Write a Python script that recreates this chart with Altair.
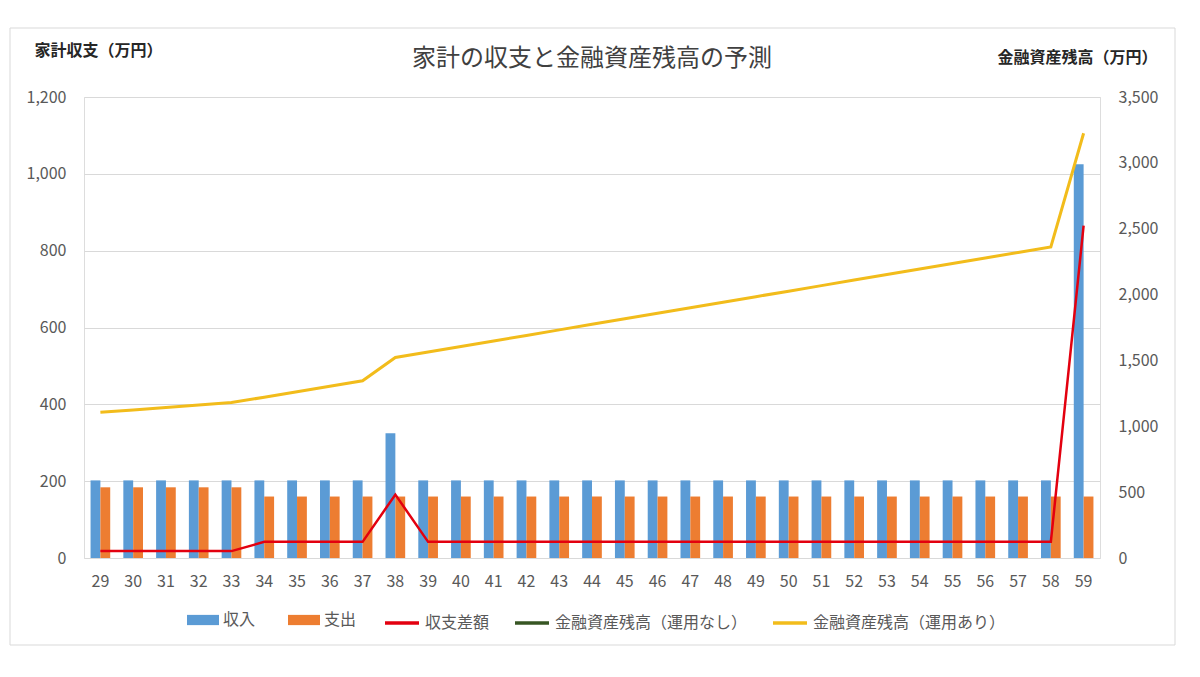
import altair as alt
import pandas as pd

# ---- data ----
ages = ["29", "30", "31", "32", "33", "34", "35", "36", "37", "38",
        "39", "40", "41", "42", "43", "44", "45", "46", "47", "48",
        "49", "50", "51", "52", "53", "54", "55", "56", "57", "58", "59"]

income = [202, 202, 202, 202, 202, 202, 202, 202, 202, 325,
          202, 202, 202, 202, 202, 202, 202, 202, 202, 202,
          202, 202, 202, 202, 202, 202, 202, 202, 202, 202, 1025]

expense = [184, 184, 184, 184, 184, 160, 160, 160, 160, 160,
           160, 160, 160, 160, 160, 160, 160, 160, 160, 160,
           160, 160, 160, 160, 160, 160, 160, 160, 160, 160, 160]

balance = [18, 18, 18, 18, 18, 42, 42, 42, 42, 165,
           42, 42, 42, 42, 42, 42, 42, 42, 42, 42,
           42, 42, 42, 42, 42, 42, 42, 42, 42, 42, 865]

assets_invested = [1106, 1124, 1143, 1161, 1180, 1221, 1262, 1304, 1346, 1522,
                   1564, 1606, 1648, 1690, 1732, 1774, 1816, 1858, 1900, 1942,
                   1984, 2026, 2068, 2110, 2152, 2194, 2236, 2278, 2320, 2362, 3225]

bar_names = ["収入", "支出"]
bar_colors = ["#5B9BD5", "#ED7D31"]
line_names = ["収支差額", "金融資産残高（運用なし）", "金融資産残高（運用あり）"]
line_colors = ["#E3000F", "#375623", "#F2BC1B"]

left_ticks = [0, 200, 400, 600, 800, 1000, 1200]
right_ticks = [0, 500, 1000, 1500, 2000, 2500, 3000, 3500]

title_text = "家計の収支と金融資産残高の予測"
left_title = "家計収支（万円）"
right_title = "金融資産残高（万円）"

# ---- tables ----
bars_df = pd.DataFrame(
    [{"age": a, "series": bar_names[0], "value": v} for a, v in zip(ages, income)]
    + [{"age": a, "series": bar_names[1], "value": v} for a, v in zip(ages, expense)]
)
bal_df = pd.DataFrame({"age": ages, "value": balance, "series": line_names[0]})
asset_df = pd.DataFrame({"age": ages, "value": assets_invested, "series": line_names[2]})
frame_df = pd.DataFrame({"k": [0]})

FONT = "Noto Sans CJK JP"
LABEL = "#595959"

W, H = 1016, 461
PADL, PADT = 84, 97

x_axis = alt.Axis(labelAngle=0, labelFontSize=16, labelColor=LABEL, labelFont=FONT,
                  labelPadding=15, ticks=False, domain=False, grid=False, title=None)
x_enc = alt.X("age:N", sort=ages, axis=x_axis,
              scale=alt.Scale(paddingInner=0.4, paddingOuter=0.2))

left_axis = alt.Axis(orient="left", values=left_ticks, format=",d", grid=True,
                     gridColor="#D9D9D9", domain=False, ticks=False,
                     labelFontSize=16, labelColor=LABEL, labelFont=FONT, labelPadding=18,
                     title=left_title, titleAngle=0, titleX=-50, titleY=-47,
                     titleAlign="left", titleBaseline="middle", titleFont=FONT,
                     titleFontWeight="bold", titleFontSize=16, titleColor="#262626")
left_scale = alt.Scale(domain=[0, 1200], nice=False)

right_axis = alt.Axis(orient="right", values=right_ticks, format=",d", grid=False,
                      domain=False, ticks=False,
                      labelFontSize=16, labelColor=LABEL, labelFont=FONT, labelPadding=18,
                      title=right_title, titleAngle=0, titleX=57, titleY=-40,
                      titleAlign="right", titleBaseline="middle", titleFont=FONT,
                      titleFontWeight="bold", titleFontSize=16, titleColor="#262626")
right_scale = alt.Scale(domain=[0, 3500], nice=False)

fill_legend = alt.Legend(orient="none", legendX=187 - PADL, legendY=604 - PADT,
                         direction="horizontal", title=None,
                         symbolType="M-1,-0.32H1V0.32H-1Z", symbolSize=1024,
                         symbolStrokeWidth=0, labelFontSize=16, labelFont=FONT,
                         labelColor=LABEL, labelOffset=4, columnPadding=32, labelLimit=400)
stroke_legend = alt.Legend(orient="none", legendX=383 - PADL, legendY=604 - PADT,
                           direction="horizontal", title=None,
                           symbolType="stroke", symbolSize=1156, symbolStrokeWidth=3.5,
                           labelFontSize=16, labelFont=FONT, labelColor=LABEL,
                           labelOffset=4, columnPadding=18, labelLimit=400)

frame = alt.Chart(frame_df).mark_rect(fillOpacity=0, stroke="#D9D9D9", strokeWidth=1).encode(
    x=alt.value(10 - PADL), x2=alt.value(1175 - PADL),
    y=alt.value(28 - PADT), y2=alt.value(645 - PADT)
)

bars = alt.Chart(bars_df).mark_bar().encode(
    x=x_enc,
    xOffset=alt.XOffset("series:N", sort=bar_names,
                        scale=alt.Scale(domain=bar_names, paddingInner=0, paddingOuter=0)),
    y=alt.Y("value:Q", axis=left_axis, scale=left_scale),
    fill=alt.Fill("series:N", scale=alt.Scale(domain=bar_names, range=bar_colors),
                  legend=fill_legend),
)

bal_line = alt.Chart(bal_df).mark_line(strokeWidth=2.5).encode(
    x=x_enc,
    y=alt.Y("value:Q", axis=left_axis, scale=left_scale),
    stroke=alt.Stroke("series:N", scale=alt.Scale(domain=line_names, range=line_colors),
                      legend=stroke_legend),
)

asset_line = alt.Chart(asset_df).mark_line(strokeWidth=3).encode(
    x=x_enc,
    y=alt.Y("value:Q", axis=right_axis, scale=right_scale),
    stroke=alt.Stroke("series:N", scale=alt.Scale(domain=line_names, range=line_colors),
                      legend=stroke_legend),
)

left = alt.layer(bars, bal_line)

chart = alt.layer(frame, left, asset_line).resolve_scale(y="independent").properties(
    width=W, height=H,
    title=alt.Title(title_text, fontSize=24, font=FONT, color="#404040",
                    fontWeight="normal", anchor="middle", offset=0, dy=43),
    autosize=alt.AutoSizeParams(type="none"),
    padding={"left": PADL, "top": PADT, "right": 1200 - PADL - W, "bottom": 677 - PADT - H},
).configure_view(strokeWidth=0).configure(background="white")

chart.save("out.html", embed_options={"renderer": "svg", "actions": False})
